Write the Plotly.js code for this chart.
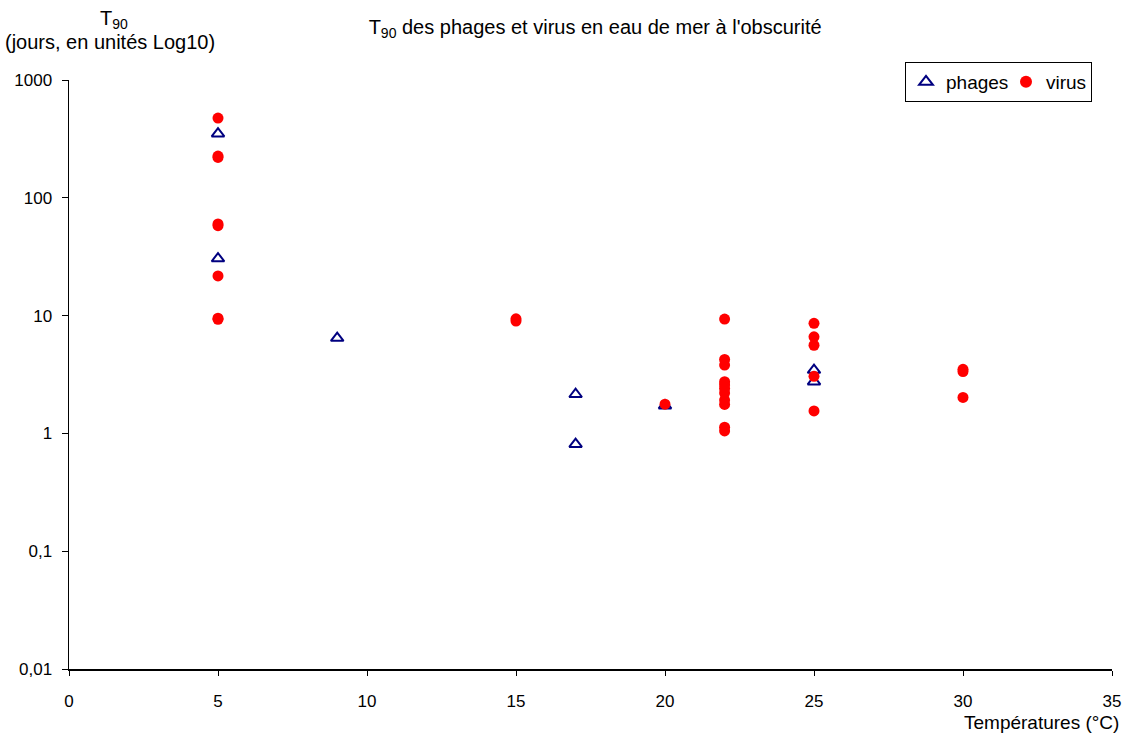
<!DOCTYPE html>
<html>
<head>
<meta charset="utf-8">
<script src="https://cdn.plot.ly/plotly-3.0.1.min.js"></script>
<style>html,body{margin:0;padding:0;background:#fff;}#chart{width:1125px;height:733px;}</style>
</head>
<body>
<div id="chart"></div>
<script>
// Data
const phagesTemp = [5, 5, 9, 17, 17, 20, 25, 25];
const phagesT90  = [350, 30.5, 6.45, 2.15, 0.81, 1.72, 3.45, 2.75];

const virusTemp = [5, 5, 5, 5, 5, 5, 5, 5, 15, 15, 20, 22, 22, 22, 22, 22, 22, 22, 22, 22, 22, 22, 25, 25, 25, 25, 25, 30, 30, 30];
const virusT90  = [475, 226, 220, 60, 58, 21.7, 9.5, 9.3, 9.0, 9.4, 1.77, 9.35, 4.25, 3.8, 2.75, 2.58, 2.4, 1.92, 1.76, 1.13, 1.05, 2.2, 8.6, 6.6, 5.6, 3.05, 1.55, 3.5, 3.35, 2.02];

const yTickVals = [0.01, 0.1, 1, 10, 100, 1000];
const yTickText = ["0,01", "0,1", "1", "10", "100", "1000"];
const xTickVals = [0, 5, 10, 15, 20, 25, 30, 35];

const fam = "Liberation Sans, Arial, sans-serif";
const tickFont = {family: fam, size: 17, color: "#000"};
const textFont = {family: fam, size: 20, color: "#000"};
const legendFont = {family: fam, size: 19, color: "#000"};
const xTitleFont = {family: fam, size: 19, color: "#000"};

const traces = [
  {
    x: phagesTemp, y: phagesT90, name: "phages", type: "scatter", mode: "markers", legendwidth: 55,
    marker: {symbol: "triangle-up-open", size: 11, color: "#000080", line: {width: 2, color: "#000080"}}
  },
  {
    x: virusTemp, y: virusT90, name: "virus", type: "scatter", mode: "markers", legendwidth: 40,
    marker: {symbol: "circle", size: 11, color: "#ff0000", line: {width: 0}}
  }
];

const layout = {
  width: 1125, height: 733,
  margin: {l: 69, r: 13, t: 80, b: 64},
  paper_bgcolor: "#fff", plot_bgcolor: "#fff",
  font: textFont,
  showlegend: true,
  title: {
    text: "T<sub>90</sub> des phages et virus en eau de mer à l'obscurité",
    font: textFont,
    x: 0.529, xanchor: "center", y: 0.963, yanchor: "middle"
  },
  xaxis: {
    range: [0, 35], tickvals: xTickVals, ticktext: xTickVals.map(String),
    showgrid: false, zeroline: false, showline: true, linecolor: "#000", linewidth: 2,
    ticks: "outside", ticklen: 5, tickcolor: "#000", tickwidth: 1,
    ticklabelstandoff: 11, tickfont: tickFont
  },
  yaxis: {
    type: "log", range: [-2, 3], tickvals: yTickVals, ticktext: yTickText,
    showgrid: false, zeroline: false, showline: true, linecolor: "#000", linewidth: 1.5,
    ticks: "outside", ticklen: 6, tickcolor: "#000", tickwidth: 1,
    ticklabelstandoff: 6, tickfont: tickFont
  },
  legend: {
    orientation: "h", x: (905 - 69) / 1043, xanchor: "left", y: 1 + (80 - 62) / 589, yanchor: "top",
    bordercolor: "#000", borderwidth: 1, bgcolor: "#fff",
    font: legendFont,
    itemsizing: "constant", tracegroupgap: 0
  },
  annotations: [
    {text: "T<sub>90</sub>", xref: "paper", yref: "paper", x: (114 - 69) / 1043, y: 1 + (80 - 20) / 589,
     xanchor: "center", yanchor: "middle", showarrow: false, font: textFont},
    {text: "(jours, en unités Log10)", xref: "paper", yref: "paper", x: (110 - 69) / 1043, y: 1 + (80 - 42) / 589,
     xanchor: "center", yanchor: "middle", showarrow: false, font: textFont},
    {text: "Températures (°C)", xref: "paper", yref: "paper", x: (1121 - 69) / 1043, y: -(722 - 669) / 589,
     xanchor: "right", yanchor: "middle", showarrow: false, font: xTitleFont}
  ]
};

Plotly.newPlot("chart", traces, layout, {displayModeBar: false, staticPlot: true});
</script>
</body>
</html>
